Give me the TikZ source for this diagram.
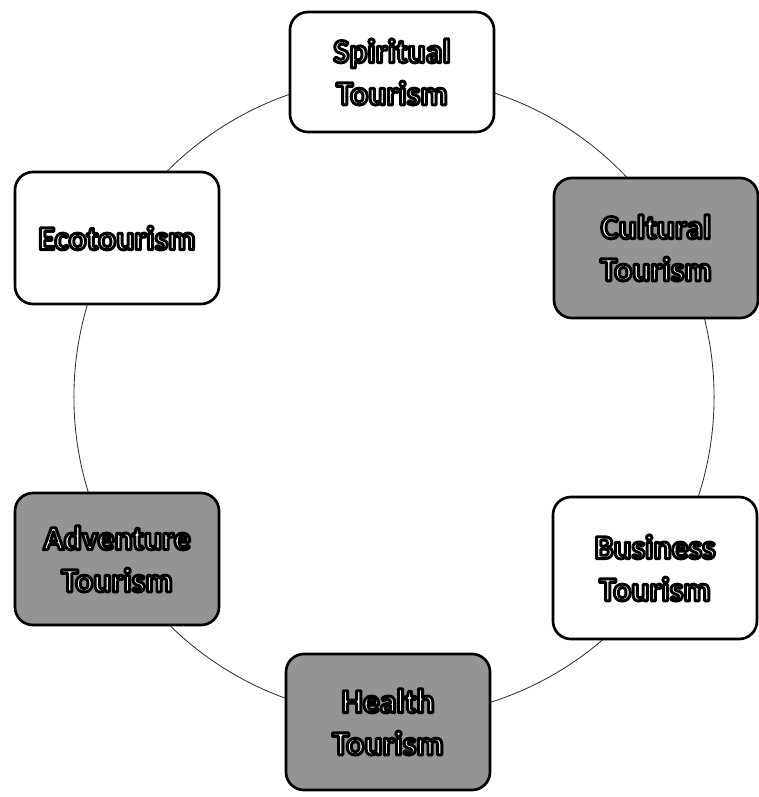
\documentclass[tikz,border=0pt]{standalone}
\usepackage{fontspec}
\setmainfont{Carlito}
\usetikzlibrary{backgrounds}

% white letters with a black rim
\newcommand{\ctext}[1]{\special{pdf:literal direct 2 Tr 2.1 w 1 j 0 0 0 RG 1 1 1 rg}#1\special{pdf:literal direct 0 Tr}}

\begin{document}
\begin{tikzpicture}[
  x=0.025cm,y=-0.025cm,
  font=\fontsize{24}{30}\selectfont\bfseries,
  kind/.style={draw=black,line width=1.9pt,rounded corners=4.5mm,minimum width=5.1cm,minimum height=3.3cm,align=center,text=white,fill=white},
  shaded/.style={kind,fill=black!42},
  ring/.style={draw=black!80,line width=0.6pt}
]
\useasboundingbox (0,0) rectangle (758,797);

% ===== Ring =====
\coordinate (mid) at (394,397);

% ===== Tourism kinds =====
\node[kind,minimum height=3cm] (spirit) at (392,72) {\ctext{Spiritual}\\\ctext{Tourism}};
\node[shaded,minimum height=3.5cm] (culture) at (656,248) {\ctext{Cultural}\\\ctext{Tourism}};
\node[kind,minimum height=3.55cm] (business) at (655,568) {\ctext{Business}\\\ctext{Tourism}};
\node[shaded,minimum height=3.4cm] (health) at (388,722) {\ctext{Health}\\\ctext{Tourism}};
\node[shaded] (adventure) at (117,559) {\ctext{Adventure}\\\ctext{Tourism}};
\node[kind] (eco) at (117,238) {\ctext{Ecotourism}};

% ===== Circle =====
\begin{scope}[on background layer]
  \draw[ring] (mid) circle[radius=8cm];
\end{scope}

\end{tikzpicture}
\end{document}
